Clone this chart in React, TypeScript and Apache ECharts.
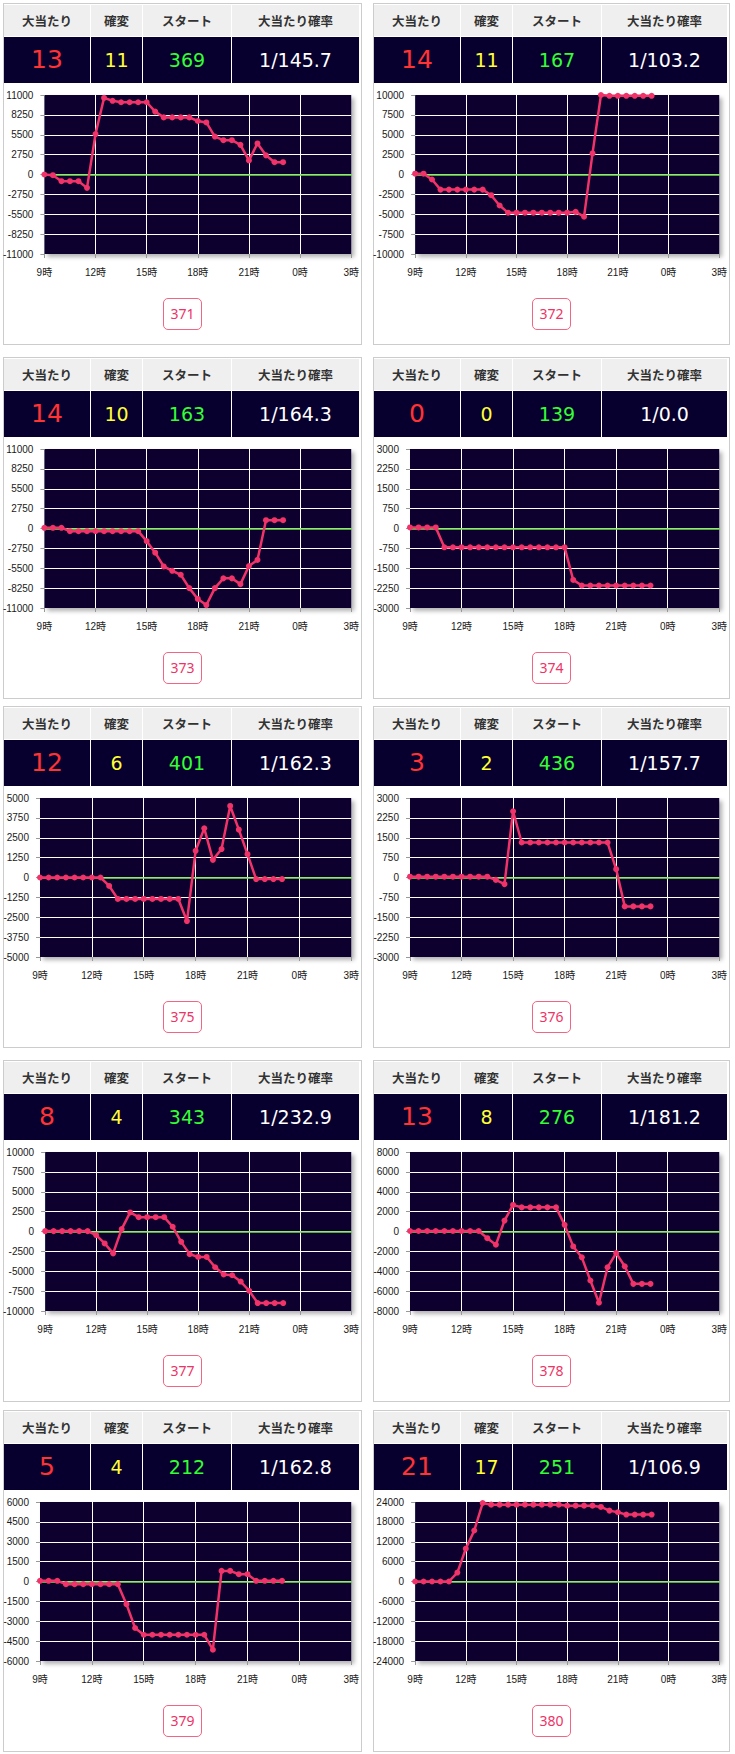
import React, { useEffect, useRef } from 'react';
import * as echarts from 'echarts';

// ---- data ----
const timeSlots = [
  '9:00', '9:30', '10:00', '10:30', '11:00', '11:30', '12:00', '12:30', '13:00', '13:30',
  '14:00', '14:30', '15:00', '15:30', '16:00', '16:30', '17:00', '17:30', '18:00', '18:30',
  '19:00', '19:30', '20:00', '20:30', '21:00', '21:30', '22:00', '22:30', '23:00', '23:30',
  '0:00', '0:30', '1:00', '1:30', '2:00', '2:30', '3:00',
];
const headerLabels = ['大当たり', '確変', 'スタート', '大当たり確率'];
const machineNumbers = ['371', '372', '373', '374', '375', '376', '377', '378', '379', '380'];
const bigHits = [13, 14, 14, 0, 12, 3, 8, 13, 5, 21];
const kakuhenHits = [11, 11, 10, 0, 6, 2, 4, 8, 4, 17];
const startCounts = [369, 167, 163, 139, 401, 436, 343, 276, 212, 251];
const hitProbability = ['1/145.7', '1/103.2', '1/164.3', '1/0.0', '1/162.3', '1/157.7', '1/232.9', '1/181.2', '1/162.8', '1/106.9'];
const axisLimits = [11000, 10000, 11000, 3000, 5000, 3000, 10000, 8000, 6000, 24000];

const diff371 = [0, -100, -930, -930, -930, -1850, 5600, 10600, 10200, 10000, 10000, 10000, 10000, 8700, 7900, 7900, 7900, 7900, 7400, 7200, 5250, 4750, 4750, 4100, 1950, 4300, 2650, 1700, 1700];
const diff372 = [100, 100, -630, -1900, -1900, -1900, -1900, -1900, -1900, -2600, -3900, -4800, -4800, -4800, -4800, -4800, -4800, -4800, -4800, -4700, -5300, 2650, 10000, 9900, 9900, 9900, 9900, 9900, 9900];
const diff373 = [100, 100, 100, -370, -370, -370, -370, -370, -370, -370, -370, -370, -1750, -3350, -5250, -5850, -6400, -8250, -9750, -10600, -8250, -6900, -6900, -7700, -5200, -4350, 1150, 1150, 1150];
const diff374 = [40, 40, 40, 40, -710, -710, -710, -710, -710, -710, -710, -710, -710, -710, -710, -710, -710, -710, -710, -1940, -2150, -2150, -2150, -2150, -2150, -2150, -2150, -2150, -2150];
const diff375 = [0, 0, 0, 0, 0, 0, 0, 0, -530, -1350, -1350, -1350, -1350, -1350, -1350, -1350, -1350, -2740, 1680, 3090, 1110, 1790, 4500, 3010, 1470, -100, -100, -100, -100];
const diff376 = [30, 30, 30, 30, 30, 30, 30, 30, 30, 30, -90, -250, 2500, 1320, 1320, 1320, 1320, 1320, 1320, 1320, 1320, 1320, 1320, 1320, 315, -1090, -1090, -1090, -1090];
const diff377 = [50, 50, 50, 50, 50, 50, -450, -1500, -2750, 300, 2400, 1800, 1800, 1800, 1800, 600, -1300, -2850, -3200, -3200, -4500, -5400, -5500, -6300, -7450, -9000, -9000, -9000, -9000];
const diff378 = [50, 50, 50, 50, 50, 50, 50, 50, 50, -670, -1330, 1100, 2670, 2430, 2430, 2430, 2430, 2430, 670, -1500, -2600, -4930, -7170, -3600, -2170, -3500, -5270, -5270, -5270];
const diff379 = [50, 50, 50, -200, -200, -200, -200, -200, -200, -200, -1710, -3510, -4020, -4020, -4020, -4020, -4020, -4020, -4020, -4020, -5150, 800, 800, 550, 550, 50, 50, 50, 50];
const diff380 = [0, 0, 0, 0, 0, 2700, 9900, 15400, 23700, 23200, 23200, 23200, 23200, 23200, 23200, 23200, 23200, 23200, 22900, 22900, 22900, 22900, 22500, 21400, 20900, 20200, 20200, 20200, 20200];
const diffSeries = [diff371, diff372, diff373, diff374, diff375, diff376, diff377, diff378, diff379, diff380];

// ---- style ----
const NAVY = '#07002f';
const LINE_RED = '#f03368';
const ZERO_GREEN = '#72e04c';
const ROW_TOPS = [3, 357, 706, 1060, 1410];
const COL_LEFTS = [3, 373];
const PANEL_WIDTHS = [359, 357];
const PANEL_H = 342;
const CELL_EDGES = [1, 88, 140, 229];
const VALUE_COLORS = ['#ff3333', '#ffff33', '#33ff33', '#ffffff'];
const VALUE_SIZES = [25, 19, 19, 19];
const AXIS_FONT = '"Liberation Sans", Arial, "Noto Sans CJK JP", sans-serif';
const SHIFT = 3;

function chartOption(values: number[], limit: number, panelW: number) {
  const labelLen = String(-limit).length;
  const plotLeft = labelLen >= 6 ? 41 : 37;
  const plotRight = 349;
  return {
    animation: false,
    grid: {
      left: plotLeft + SHIFT,
      right: panelW + SHIFT - (plotRight + SHIFT),
      top: 10,
      height: 159,
      show: true,
      backgroundColor: NAVY,
      borderWidth: 0,
      shadowColor: 'rgba(0,0,0,0.3)',
      shadowBlur: 4,
      shadowOffsetX: 3,
      shadowOffsetY: 3,
    },
    xAxis: [
      {
        type: 'category',
        data: timeSlots,
        boundaryGap: false,
        position: 'bottom',
        axisLine: { show: false, onZero: false },
        axisTick: { show: true, interval: 5, length: 4, lineStyle: { color: '#999' } },
        axisLabel: {
          interval: 5,
          margin: 13,
          color: '#1a1a1a',
          fontSize: 10,
          fontFamily: AXIS_FONT,
          formatter: (v: string) => (v.endsWith(':00') ? v.slice(0, -3) + '時' : ''),
        },
        splitLine: {
          show: true,
          interval: 5,
          showMinLine: false,
          showMaxLine: false,
          lineStyle: { color: '#ffffff', width: 1 },
        },
      },
      {
        type: 'category',
        data: timeSlots,
        boundaryGap: false,
        position: 'top',
        axisLine: { show: true, onZero: true, lineStyle: { color: ZERO_GREEN, width: 1.5 } },
        axisTick: { show: false },
        axisLabel: { show: false },
        splitLine: { show: false },
      },
    ],
    yAxis: {
      type: 'value',
      min: -limit,
      max: limit,
      interval: limit / 4,
      axisLine: { show: false },
      axisTick: { show: true, length: 4, lineStyle: { color: '#999' } },
      axisLabel: {
        margin: 11,
        color: '#1a1a1a',
        fontSize: 10,
        fontFamily: AXIS_FONT,
        formatter: (v: number) => String(v),
      },
      splitLine: {
        show: true,
        showMinLine: false,
        showMaxLine: false,
        lineStyle: { color: '#ffffff', width: 1 },
      },
    },
    series: [
      {
        type: 'line',
        xAxisIndex: 0,
        data: values,
        symbol: 'circle',
        symbolSize: 6,
        showSymbol: true,
        showAllSymbol: true,
        lineStyle: { color: LINE_RED, width: 2.5 },
        itemStyle: { color: LINE_RED },
        z: 5,
      },
    ],
  };
}

function Panel({ index }: { index: number }) {
  const ref = useRef<HTMLDivElement>(null);
  const col = index % 2;
  const row = Math.floor(index / 2);
  const W = PANEL_WIDTHS[col];

  useEffect(() => {
    if (!ref.current) return;
    const chart = echarts.init(ref.current, undefined, { renderer: 'svg' });
    chart.setOption(chartOption(diffSeries[index], axisLimits[index], W) as any);
    return () => chart.dispose();
  }, [index, W]);

  const edges = [...CELL_EDGES, W - 2];
  const values = [bigHits[index], kakuhenHits[index], startCounts[index], hitProbability[index]];

  return (
    <div
      style={{
        position: 'absolute',
        left: COL_LEFTS[col],
        top: ROW_TOPS[row],
        width: W,
        height: PANEL_H,
        background: '#fff',
        boxShadow: 'inset 0 0 0 1px #cccccc',
      }}
    >
      {headerLabels.map((h, i) => (
        <div
          key={'h' + i}
          style={{
            position: 'absolute',
            left: edges[i],
            top: 2,
            width: edges[i + 1] - edges[i] - 1,
            height: 31,
            background: '#efefef',
            color: '#333',
            fontFamily: '"Noto Sans CJK JP", sans-serif',
            fontWeight: 'bold',
            fontSize: 12.5,
            lineHeight: '31px',
            textAlign: 'center',
            whiteSpace: 'nowrap',
          }}
        >
          {h}
        </div>
      ))}
      {values.map((v, i) => (
        <div
          key={'v' + i}
          style={{
            position: 'absolute',
            left: edges[i],
            top: 34,
            width: edges[i + 1] - edges[i] - 1,
            height: 46,
            background: NAVY,
            color: VALUE_COLORS[i],
            fontFamily: '"DejaVu Sans", Verdana, sans-serif',
            fontSize: VALUE_SIZES[i],
            lineHeight: '46px',
            textAlign: 'center',
            whiteSpace: 'nowrap',
          }}
        >
          {String(v)}
        </div>
      ))}
      <div
        ref={ref}
        style={{ position: 'absolute', left: -SHIFT, top: 82, width: W + SHIFT, height: 212 }}
      />
      <div
        style={{
          position: 'absolute',
          left: Math.round((W - 39) / 2),
          top: 295,
          width: 39,
          height: 32,
          boxSizing: 'border-box',
          border: '1px solid #f06684',
          borderRadius: 5,
          background: '#fff',
          color: '#ee3366',
          fontFamily: '"Noto Sans", sans-serif',
          fontSize: 14,
          lineHeight: '30px',
          textAlign: 'center',
        }}
      >
        {machineNumbers[index]}
      </div>
    </div>
  );
}

export default function App() {
  return (
    <div
      style={{
        position: 'absolute',
        left: 0,
        top: 0,
        width: 735,
        height: 1754,
        background: '#fff',
        overflow: 'hidden',
      }}
    >
      {machineNumbers.map((_, i) => (
        <Panel key={i} index={i} />
      ))}
    </div>
  );
}
